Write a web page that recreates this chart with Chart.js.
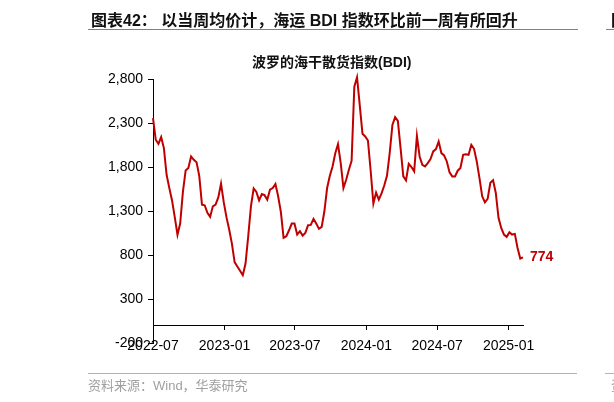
<!DOCTYPE html>
<html>
<head>
<meta charset="utf-8">
<script src="https://cdn.jsdelivr.net/npm/chart.js@4.4.1/dist/chart.umd.min.js"></script>
<style>
  body { margin: 0; background: #fff; }
  #wrap { position: relative; width: 614px; height: 402px; overflow: hidden; font-family: "Liberation Sans", "Noto Sans CJK SC", sans-serif; }
  #wrap canvas { position: absolute; left: 0; top: 0; }
  .txt { position: absolute; white-space: nowrap; }
  .hline { position: absolute; height: 0; }
</style>
</head>
<body>
<div id="wrap">
  <canvas id="bdiChart" width="614" height="402"></canvas>
  <div class="txt" style="left:91px; top:7px; font-size:16px; font-weight:bold; color:#111;">图表42：&nbsp;以当周均价计，海运 BDI 指数环比前一周有所回升</div>
  <div class="hline" style="left:88px; top:29px; width:490px; border-top:1px solid #5b87c0;"></div>
  <div class="txt" style="left:611px; top:7px; font-size:16px; font-weight:bold; color:#111;">图</div>
  <div class="hline" style="left:606px; top:29px; width:10px; border-top:1px solid #5b87c0;"></div>
  <div class="txt" style="left:252px; top:51px; font-size:14px; font-weight:bold; color:#111;">波罗的海干散货指数(BDI)</div>
  <div class="hline" style="left:88px; top:373px; width:489px; border-top:1px solid #9db8dc;"></div>
  <div class="hline" style="left:605px; top:373px; width:10px; border-top:1px solid #9db8dc;"></div>
  <div class="txt" style="left:88px; top:375px; font-size:13px; color:#a0a0a0;">资料来源：Wind，华泰研究</div>
  <div class="txt" style="left:611px; top:375px; font-size:13px; color:#a0a0a0;">资</div>
</div>
<script>
// weekly average BDI, Fridays starting 2022-07-01
const startDate = Date.UTC(2022, 6, 1);
const bdi = [
  2355, 2110, 2064, 2140, 2015, 1712, 1560, 1420, 1230, 1030,
  1160, 1520, 1761, 1788, 1920, 1882, 1855, 1700, 1372, 1365,
  1280, 1233, 1353, 1372, 1455, 1610, 1400, 1230, 1090, 930,
  720, 670, 620, 570, 700, 1013, 1353, 1557, 1516, 1421,
  1493, 1480, 1429, 1542, 1561, 1607, 1467, 1289, 995, 1013,
  1081, 1157, 1157, 1032, 1070, 1021, 1051, 1138, 1142, 1210,
  1157, 1097, 1119, 1297, 1561, 1701, 1806, 1957, 2060, 1844,
  1561, 1655, 1769, 1871, 2713, 2820, 2500, 2177, 2147, 2101,
  1760, 1384, 1510, 1429, 1500, 1590, 1700, 1958, 2279, 2366,
  2324, 2015, 1693, 1648, 1837, 1799, 1750, 2154, 1920, 1825,
  1807, 1844, 1890, 1977, 2003, 2090, 1958, 1931, 1863, 1739,
  1693, 1693, 1758, 1788, 1939, 1946, 1939, 2052, 2007, 1863,
  1674, 1467, 1399, 1437, 1620, 1650, 1505, 1222, 1108, 1032,
  1006, 1059, 1032, 1040, 880, 760, 774
];
const tickLabels = ["2022-07", "2023-01", "2023-07", "2024-01", "2024-07", "2025-01"];

const DAY = 86400000;
const tickDays = tickLabels.map(s => {
  const [y, m] = s.split("-").map(Number);
  return Math.round((Date.UTC(y, m - 1, 1) - startDate) / DAY);
});
const points = bdi.map((v, i) => ({ x: i * 7, y: v }));

const endLabel = {
  id: "endLabel",
  afterDatasetsDraw(chart) {
    const meta = chart.getDatasetMeta(0);
    const p = meta.data[meta.data.length - 1];
    const ctx = chart.ctx;
    ctx.save();
    ctx.font = "bold 14px 'Liberation Sans', Arial";
    ctx.fillStyle = "#c00000";
    ctx.textAlign = "left";
    ctx.textBaseline = "middle";
    ctx.fillText(String(bdi[bdi.length - 1]), p.x + 7, p.y);
    ctx.restore();
  }
};

new Chart(document.getElementById("bdiChart"), {
  type: "line",
  data: {
    datasets: [{
      label: "BDI",
      data: points,
      borderColor: "#c00000",
      borderWidth: 2,
      pointRadius: 0,
      tension: 0,
      fill: false,
      clip: false
    }]
  },
  options: {
    responsive: false,
    animation: false,
    layout: { padding: { left: 93, right: 91, top: 79, bottom: 59 } },
    plugins: { legend: { display: false }, tooltip: { enabled: false } },
    scales: {
      x: {
        type: "linear",
        position: { y: 0 },
        min: 0,
        max: (bdi.length - 1) * 7,
        afterBuildTicks: axis => { axis.ticks = tickDays.map(v => ({ value: v })); },
        ticks: {
          autoSkip: false,
          maxRotation: 0,
          padding: 8,
          color: "#000",
          font: { family: "'Liberation Sans', Arial", size: 14 },
          callback: v => tickLabels[tickDays.indexOf(v)]
        },
        grid: { drawOnChartArea: false, drawTicks: true, tickLength: 4, color: "#000" },
        border: { display: true, color: "#000", width: 1 }
      },
      y: {
        min: -200,
        max: 2800,
        afterFit: axis => { axis.width = 60; },
        ticks: {
          stepSize: 500,
          padding: 5,
          color: "#000",
          font: { family: "'Liberation Sans', Arial", size: 14 },
          callback: v => v.toLocaleString("en-US")
        },
        grid: { drawOnChartArea: false, drawTicks: true, tickLength: 5, color: "#000" },
        border: { display: true, color: "#000", width: 1 }
      }
    }
  },
  plugins: [endLabel]
});
</script>
</body>
</html>
